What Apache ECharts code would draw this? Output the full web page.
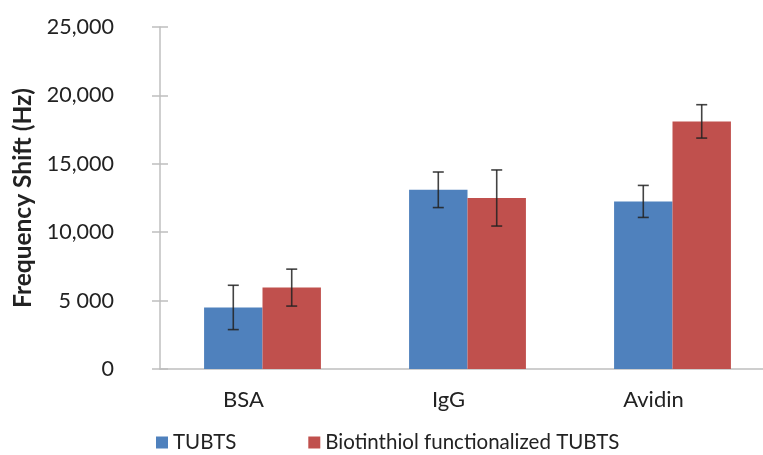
<!DOCTYPE html>
<html>
<head>
<meta charset="utf-8">
<script src="https://cdn.jsdelivr.net/npm/echarts@6/dist/echarts.min.js"></script>
<style>html,body{margin:0;padding:0;background:#fff;overflow:hidden;width:763px;height:455px;}#c{width:790px;height:455px;}</style>
</head>
<body>
<div id="c"></div>
<script>
var categories = ['BSA', 'IgG', 'Avidin'];
var seriesNames = ['TUBTS', 'Biotinthiol functionalized TUBTS'];
var tubts = [4500, 13100, 12250];
var tubtsErr = [1620, 1300, 1170];
var bio = [5950, 12500, 18100];
var bioErr = [1350, 2050, 1220];
var yTickLabels = {0: '0', 5000: '5 000', 10000: '10,000', 15000: '15,000', 20000: '20,000', 25000: '25,000'};

var colors = ['#4F81BD', '#C0504D'];
var FONT = 'Lato';
var chart = echarts.init(document.getElementById('c'), null, {renderer: 'canvas'});

function errSeries(vals, errs, side) {
  return {
    type: 'custom',
    yAxisIndex: 0,
    z: 10,
    silent: true,
    clip: false,
    data: vals.map(function (v, i) { return [i, v - errs[i], v + errs[i]]; }),
    renderItem: function (params, api) {
      var cw = api.size([1, 0])[0];
      var off = side * cw * 0.1425;
      var lo = api.coord([api.value(0), api.value(1)]);
      var hi = api.coord([api.value(0), api.value(2)]);
      var x = lo[0] + off;
      var cap = 5.5;
      var st = {stroke: '#222', lineWidth: 1.6, opacity: 0.85};
      return {
        type: 'group',
        children: [
          {type: 'line', shape: {x1: x, y1: lo[1], x2: x, y2: hi[1]}, style: st},
          {type: 'line', shape: {x1: x - cap, y1: lo[1], x2: x + cap, y2: lo[1]}, style: st},
          {type: 'line', shape: {x1: x - cap, y1: hi[1], x2: x + cap, y2: hi[1]}, style: st}
        ]
      };
    }
  };
}

chart.setOption({
  animation: false,
  color: colors,
  grid: {left: 160, right: 15, top: 27, bottom: 86, containLabel: false},
  legend: {
    data: seriesNames,
    left: 151, top: 427,
    icon: 'rect', itemWidth: 12, itemHeight: 12, itemGap: 72,
    textStyle: {fontFamily: FONT, fontSize: 20.5, color: '#222'}
  },
  xAxis: {
    type: 'category',
    data: categories,
    axisLine: {lineStyle: {color: '#bfbfbf', width: 1.5}},
    axisTick: {show: false},
    axisLabel: {fontFamily: FONT, fontSize: 22, color: '#222', margin: 20, padding: [0, 38, 0, 0]}
  },
  yAxis: [{
    type: 'value', min: 0, max: 25000, interval: 5000,
    name: 'Frequency Shift (Hz)', nameLocation: 'middle', nameGap: 123,
    nameTextStyle: {fontFamily: FONT, fontSize: 24.5, fontWeight: 'bold', color: '#222'},
    axisLine: {show: true, lineStyle: {color: '#bfbfbf', width: 1.5}},
    axisTick: {show: true, length: 8, lineStyle: {color: '#bfbfbf', width: 1.5}},
    splitLine: {show: false},
    axisLabel: {fontFamily: FONT, fontSize: 21.5, color: '#222', margin: 46,
      formatter: function (v) { return yTickLabels[v] !== undefined ? yTickLabels[v] : ''; }}
  }, {
    type: 'value', min: 0, max: 25000, interval: 5000, position: 'left',
    axisLine: {show: false},
    axisTick: {show: true, inside: true, length: 8, lineStyle: {color: '#bfbfbf', width: 1.5}},
    splitLine: {show: false},
    axisLabel: {show: false}
  }],
  series: [
    {name: seriesNames[0], type: 'bar', data: tubts, barGap: 0, barCategoryGap: '43%',
      itemStyle: {color: colors[0]}},
    {name: seriesNames[1], type: 'bar', data: bio, barGap: 0, barCategoryGap: '43%',
      itemStyle: {color: colors[1]}},
    errSeries(tubts, tubtsErr, -1),
    errSeries(bio, bioErr, 1)
  ]
});
</script>
</body>
</html>
